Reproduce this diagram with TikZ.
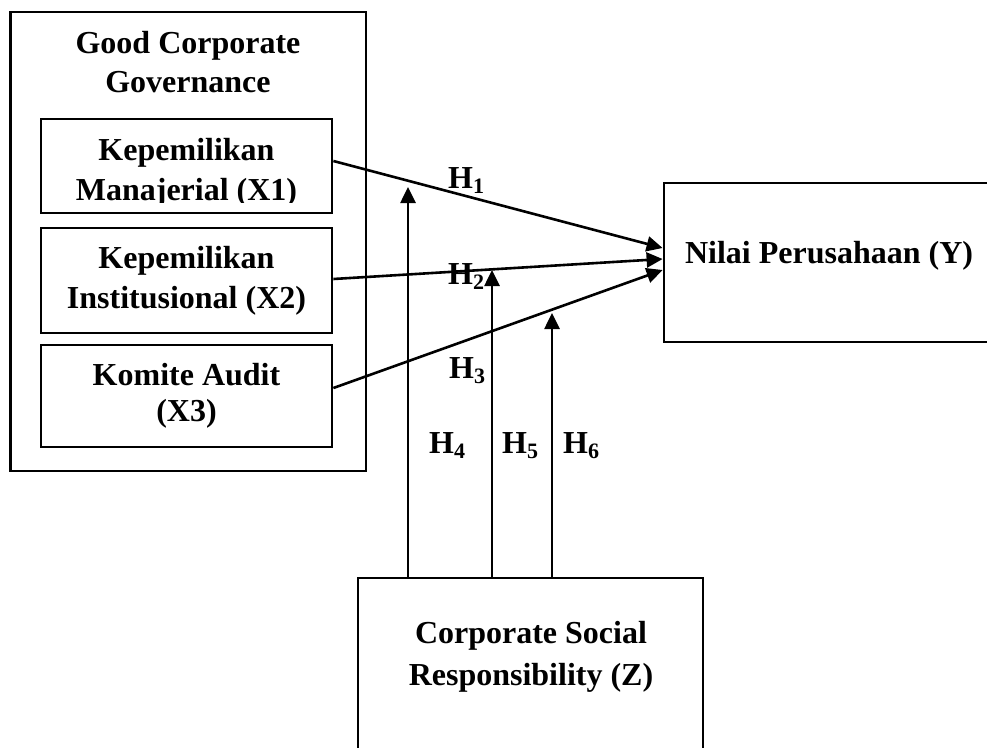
\documentclass[tikz,border=0pt]{standalone}
\usepackage{fontspec}
\setmainfont{Liberation Serif}
\usetikzlibrary{arrows.meta,calc}
\newcommand{\hsub}[1]{H\raisebox{-5pt}{\fontsize{22}{22}\selectfont #1}}
\begin{document}
\begin{tikzpicture}[x=1pt,y=-1pt,
  box/.style={draw,line width=2.8pt,inner sep=0pt},
  txt/.style={font=\fontsize{32}{36}\selectfont\bfseries,inner sep=0pt,anchor=base},
  hlab/.style={font=\fontsize{32}{36}\selectfont\bfseries,inner sep=0pt,anchor=base west},
  arr/.style={line width=2.6pt,-{Triangle[length=16pt,width=15pt]}}]
\path[use as bounding box] (0,0) rectangle (987,747);
\clip (0,0) rectangle (987,747);
\fill[white] (0,0) rectangle (987,747);
% boxes
\node[box,minimum width=355.5pt,minimum height=459pt] (gcg) at (188.25,241.5) {};
\node[box,minimum width=291pt,minimum height=94pt] (x1) at (186.5,166) {};
\node[box,minimum width=291pt,minimum height=105pt] (x2) at (186.5,280.5) {};
\node[box,minimum width=291pt,minimum height=102pt] (x3) at (186.5,396) {};
\node[box,minimum width=330pt,minimum height=159pt] (y) at (829,262.5) {};
\node[box,minimum width=345pt,minimum height=182pt] (z) at (530.5,669) {};
% texts
\node[txt] (gcg1) at (188,53) {Good Corporate};
\node[txt] (gcg2) at (188,92) {Governance};
\node[txt] (x1a) at (186.5,160) {Kepemilikan};
\begin{scope}
\clip (41,119) rectangle (332,202);
\node[txt] (x1b) at (186.5,200) {Manajerial (X1)};
\end{scope}
\node[txt] (x2a) at (186.5,268) {Kepemilikan};
\node[txt] (x2b) at (186.5,308) {Institusional (X2)};
\node[txt] (x3a) at (186.5,385) {Komite Audit};
\node[txt] (x3b) at (186.5,421) {(X3)};
\node[txt] (yt) at (829,263) {Nilai Perusahaan (Y)};
\node[txt] (z1) at (531,643) {Corporate Social};
\node[txt] (z2) at (531,685) {Responsibility (Z)};
% arrows to Y
\draw[arr] ([yshift=5pt]x1.east) -- ([yshift=14.5pt]y.west);
\draw[arr] ([yshift=1.5pt]x2.east) -- ([yshift=3.5pt]y.west);
\draw[arr] ([yshift=8pt]x3.east) -- ([yshift=-7.5pt]y.west);
% moderating arrows
\coordinate (e4) at (408,187);
\coordinate (e5) at (492,270);
\coordinate (e6) at (552,313);
\draw[arr] ([xshift=-122.5pt]z.north) -- (e4);
\draw[arr] ([xshift=-38.5pt]z.north) -- (e5);
\draw[arr] ([xshift=21.5pt]z.north) -- (e6);
% labels
\node[hlab] (h1) at (448,188) {\hsub{1}};
\node[hlab] (h2) at (448,284) {\hsub{2}};
\node[hlab] (h3) at (449,378) {\hsub{3}};
\node[hlab] (h4) at (429,453) {\hsub{4}};
\node[hlab] (h5) at (502,453) {\hsub{5}};
\node[hlab] (h6) at (563,453) {\hsub{6}};
\end{tikzpicture}
\end{document}
